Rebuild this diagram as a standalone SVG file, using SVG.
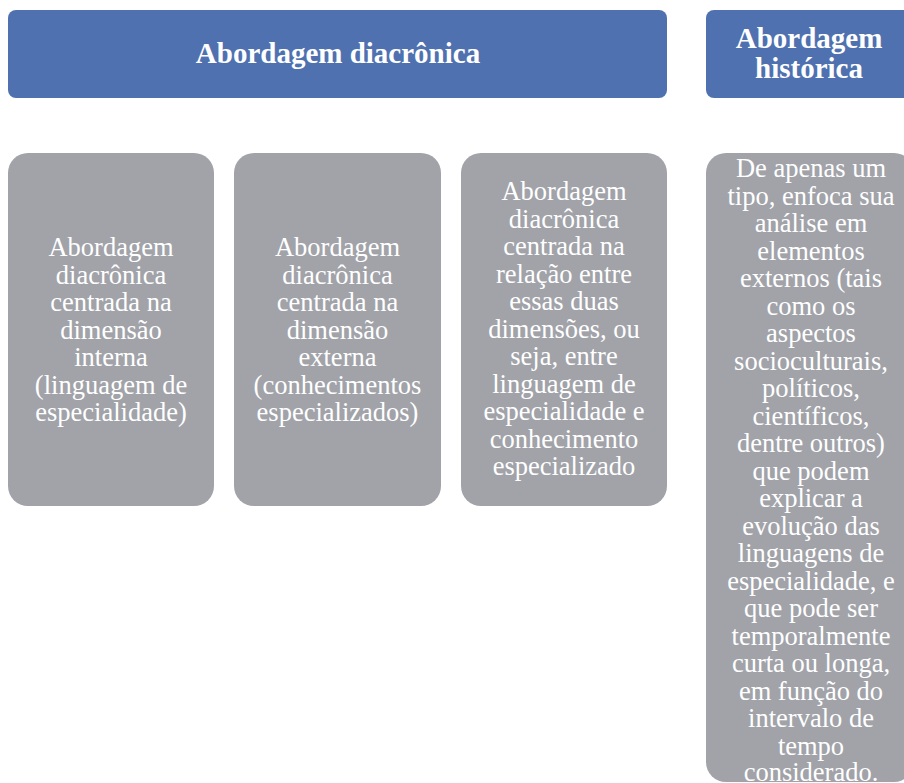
<svg xmlns="http://www.w3.org/2000/svg" width="904" height="783" viewBox="0 0 904 783">
  <style>
    .head rect { fill: #4F71B0; }
    .card rect { fill: #A1A3A9; }
    .head text { font-family: "Liberation Serif", "Times New Roman", serif; font-weight: bold; font-size: 29px; fill: #FFFFFF; text-anchor: middle; }
    .card text { font-family: "Liberation Serif", "Times New Roman", serif; font-size: 26.5px; fill: #FFFFFF; text-anchor: middle; }
  </style>
  <rect width="904" height="783" fill="#FFFFFF"/>

  <!-- column headers -->
  <g id="header-diacronica" class="head">
    <rect x="8" y="10" width="659" height="88" rx="8"/>
    <text x="338" y="63">Abordagem diacrônica</text>
  </g>
  <g id="header-historica" class="head">
    <rect x="706" y="10" width="208" height="88" rx="8"/>
    <text x="809" y="48">Abordagem</text>
    <text x="809" y="78">histórica</text>
  </g>

  <!-- detail cards -->
  <g id="card-interna" class="card">
    <rect x="8" y="153" width="206" height="353" rx="20"/>
    <text x="111" y="256">Abordagem</text>
    <text x="111" y="283.5">diacrônica</text>
    <text x="111" y="311">centrada na</text>
    <text x="111" y="338.5">dimensão</text>
    <text x="111" y="366">interna</text>
    <text x="111" y="393.5">(linguagem de</text>
    <text x="111" y="421">especialidade)</text>
  </g>
  <g id="card-externa" class="card">
    <rect x="234" y="153" width="207" height="353" rx="20"/>
    <text x="337.5" y="256">Abordagem</text>
    <text x="337.5" y="283.5">diacrônica</text>
    <text x="337.5" y="311">centrada na</text>
    <text x="337.5" y="338.5">dimensão</text>
    <text x="337.5" y="366">externa</text>
    <text x="337.5" y="393.5">(conhecimentos</text>
    <text x="337.5" y="421">especializados)</text>
  </g>
  <g id="card-relacao" class="card">
    <rect x="461" y="153" width="206" height="353" rx="20"/>
    <text x="564" y="200">Abordagem</text>
    <text x="564" y="227.5">diacrônica</text>
    <text x="564" y="255">centrada na</text>
    <text x="564" y="282.5">relação entre</text>
    <text x="564" y="310">essas duas</text>
    <text x="564" y="337.5">dimensões, ou</text>
    <text x="564" y="365">seja, entre</text>
    <text x="564" y="392.5">linguagem de</text>
    <text x="564" y="420">especialidade e</text>
    <text x="564" y="447.5">conhecimento</text>
    <text x="564" y="475">especializado</text>
  </g>
  <g id="card-historica" class="card">
    <rect x="706" y="153" width="208" height="629" rx="20"/>
    <text x="811" y="177">De apenas um</text>
    <text x="811" y="204.5">tipo, enfoca sua</text>
    <text x="811" y="232">análise em</text>
    <text x="811" y="259.5">elementos</text>
    <text x="811" y="287">externos (tais</text>
    <text x="811" y="314.5">como os</text>
    <text x="811" y="342">aspectos</text>
    <text x="811" y="369.5">socioculturais,</text>
    <text x="811" y="397">políticos,</text>
    <text x="811" y="424.5">científicos,</text>
    <text x="811" y="452">dentre outros)</text>
    <text x="811" y="479.5">que podem</text>
    <text x="811" y="507">explicar a</text>
    <text x="811" y="534.5">evolução das</text>
    <text x="811" y="562">linguagens de</text>
    <text x="811" y="589.5">especialidade, e</text>
    <text x="811" y="617">que pode ser</text>
    <text x="811" y="644.5">temporalmente</text>
    <text x="811" y="672">curta ou longa,</text>
    <text x="811" y="699.5">em função do</text>
    <text x="811" y="727">intervalo de</text>
    <text x="811" y="754.5">tempo</text>
    <text x="811" y="781">considerado.</text>
  </g>

  <!-- no connectors are drawn between these boxes -->
  <g id="connectors"/>
</svg>
